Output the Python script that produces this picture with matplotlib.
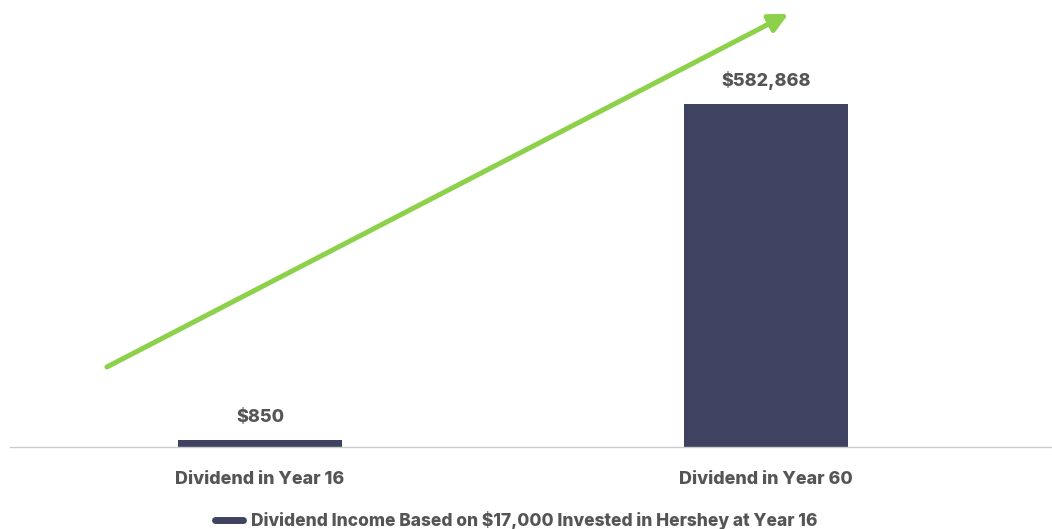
import numpy as np
import matplotlib
matplotlib.use("Agg")
import matplotlib.pyplot as plt
from matplotlib.lines import Line2D

categories = ["Dividend in Year 16", "Dividend in Year 60"]
dividends = [850, 582868]
value_labels = ["$850", "$582,868"]
series_name = "Dividend Income Based on $17,000 Invested in Hershey at Year 16"

bar_color = "#3f4361"
arrow_color = "#8dd14a"
text_color = "#555555"

plt.rcParams["font.family"] = ["Inter", "DejaVu Sans"]
weight = 800

fig = plt.figure(figsize=(10.52, 5.29), dpi=100)
ax = fig.add_axes([10 / 1052, 82 / 529, 1042 / 1052, 447 / 529])

x = np.arange(len(categories))
ymax = 760000
# small values get a minimum visible height, like the original chart
min_len = 0.015 * ymax
heights = [max(v, min_len) for v in dividends]
ax.bar(x, heights, width=0.324, color=bar_color)

for xi, h, lab in zip(x, heights, value_labels):
    ax.annotate(lab, (xi, h), xytext=(0, 10), textcoords="offset points",
                ha="center", va="bottom", fontsize=13, fontweight=weight,
                color=text_color)

ax.set_xlim(-0.494, 1.565)
ax.set_ylim(0, ymax)
ax.set_xticks(x)
ax.set_xticklabels(categories, fontsize=12.9, fontweight=weight, color=text_color)
ax.tick_params(axis="x", length=0, pad=17)
ax.set_yticks([])
for s in ["top", "left", "right"]:
    ax.spines[s].set_visible(False)
ax.spines["bottom"].set_color("#cccccc")
ax.spines["bottom"].set_linewidth(1)

# growth arrow
ax.annotate("", xy=(0.747, 0.969), xytext=(0.093, 0.179),
            xycoords="axes fraction", textcoords="axes fraction",
            arrowprops=dict(arrowstyle="-|>", color=arrow_color, lw=3.6,
                            mutation_scale=28, shrinkA=0, shrinkB=0))

handle = Line2D([0], [0], color=bar_color, lw=5, solid_capstyle="round")
leg = fig.legend([handle], [series_name], loc="lower center",
                 bbox_to_anchor=(516 / 1052, -0.032), frameon=False,
                 handlelength=1.6, handletextpad=0.45,
                 prop={"size": 12.5, "weight": weight})
for t in leg.get_texts():
    t.set_color(text_color)

fig.savefig("out.png", dpi=100)
